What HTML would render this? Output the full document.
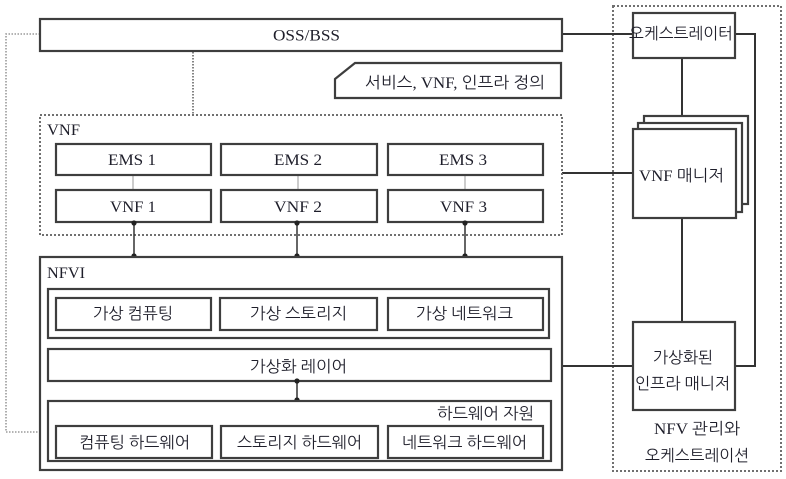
<!DOCTYPE html>
<html><head><meta charset="utf-8"><style>
html,body{margin:0;padding:0;background:#fff;}
svg{display:block;}
text{font-family:"Liberation Serif","NanumGothic","Noto Sans CJK KR",sans-serif;fill:#1e1e2a;font-size:16px;}
.b{fill:#fff;stroke:#3e3e3e;stroke-width:2.2;}
.l{stroke:#333;stroke-width:2;fill:none;}
.d{fill:none;stroke:#707070;stroke-width:2;stroke-dasharray:2 2;}
</style></head><body>
<svg width="786" height="479" viewBox="0 0 786 479" xmlns="http://www.w3.org/2000/svg">
<!-- dotted connectors -->
<path d="M40,34 L6,34 L6,432 L48,432" fill="none" stroke="#9a9a9a" stroke-width="1.6" stroke-dasharray="1.5 1.5"/>
<line x1="193" y1="52" x2="193" y2="115" stroke="#666" stroke-width="1.6" stroke-dasharray="1.5 1.5"/>

<!-- MANO dotted -->
<rect x="613" y="6" width="168" height="465" class="d"/>

<!-- solid connectors -->
<path class="l" d="M563,34 L633,34"/>
<path class="l" d="M735,34 L755,34 L755,366 L735,366"/>
<path class="l" d="M682,58 L682,129"/>
<path class="l" d="M562,173 L633,173"/>
<path class="l" d="M682,218 L682,322"/>
<path class="l" d="M563,366 L633,366"/>

<!-- OSS/BSS -->
<rect x="40" y="19" width="522" height="32" class="b"/>
<text x="273" y="40.5" textLength="67" lengthAdjust="spacingAndGlyphs" font-size="17">OSS/BSS</text>

<!-- service def -->
<path class="b" d="M335,79 L355,63 L561,63 L561,98 L335,98 Z"/>
<text x="365" y="88" textLength="180" lengthAdjust="spacingAndGlyphs">서비스, VNF, 인프라 정의</text>

<!-- VNF dotted -->
<rect x="40" y="115" width="522" height="120" class="d"/>
<text x="47" y="135" textLength="33" lengthAdjust="spacingAndGlyphs" font-size="17">VNF</text>

<line x1="133" y1="175" x2="133" y2="190" stroke="#999" stroke-width="1"/>
<line x1="298" y1="175" x2="298" y2="190" stroke="#999" stroke-width="1"/>
<line x1="465" y1="175" x2="465" y2="190" stroke="#999" stroke-width="1"/>

<rect x="56" y="144" width="155" height="31" class="b"/>
<rect x="221" y="144" width="156" height="31" class="b"/>
<rect x="388" y="144" width="155" height="31" class="b"/>
<text x="108" y="165" textLength="48" lengthAdjust="spacingAndGlyphs" font-size="17">EMS 1</text>
<text x="274" y="165" textLength="48" lengthAdjust="spacingAndGlyphs" font-size="17">EMS 2</text>
<text x="439" y="165" textLength="48" lengthAdjust="spacingAndGlyphs" font-size="17">EMS 3</text>

<rect x="56" y="190" width="155" height="32" class="b"/>
<rect x="221" y="190" width="156" height="32" class="b"/>
<rect x="388" y="190" width="155" height="32" class="b"/>
<text x="110" y="212" textLength="46" lengthAdjust="spacingAndGlyphs" font-size="17">VNF 1</text>
<text x="274" y="212" textLength="48" lengthAdjust="spacingAndGlyphs" font-size="17">VNF 2</text>
<text x="440" y="212" textLength="47" lengthAdjust="spacingAndGlyphs" font-size="17">VNF 3</text>

<!-- VNF to NFVI -->
<g stroke="#333" stroke-width="1.5">
<line x1="134" y1="222" x2="134" y2="256"/>
<line x1="297" y1="222" x2="297" y2="256"/>
<line x1="465" y1="222" x2="465" y2="256"/>
</g>
<g fill="#222">
<circle cx="134" cy="223" r="2.6"/><circle cx="297" cy="223" r="2.6"/><circle cx="465" cy="223" r="2.6"/>
<circle cx="134" cy="256" r="2.6"/><circle cx="297" cy="256" r="2.6"/><circle cx="465" cy="256" r="2.6"/>
</g>

<!-- NFVI -->
<rect x="40" y="257" width="522" height="213" class="b"/>
<text x="47" y="278" textLength="38" lengthAdjust="spacingAndGlyphs" font-size="17">NFVI</text>

<rect x="48" y="289" width="501" height="49" class="b"/>
<rect x="56" y="298" width="155" height="32" class="b"/>
<rect x="220" y="298" width="157" height="32" class="b"/>
<rect x="388" y="298" width="155" height="32" class="b"/>
<text x="93" y="319" textLength="80" lengthAdjust="spacingAndGlyphs">가상 컴퓨팅</text>
<text x="250" y="319" textLength="97" lengthAdjust="spacingAndGlyphs">가상 스토리지</text>
<text x="416" y="319" textLength="97" lengthAdjust="spacingAndGlyphs">가상 네트워크</text>

<rect x="48" y="349" width="503" height="32" class="b"/>
<text x="250" y="372" textLength="97" lengthAdjust="spacingAndGlyphs">가상화 레이어</text>

<line x1="297" y1="381" x2="297" y2="400" stroke="#333" stroke-width="1.5"/>
<circle cx="297" cy="381" r="2.6" fill="#222"/>
<circle cx="297" cy="400" r="2.6" fill="#222"/>

<rect x="48" y="401" width="503" height="60" class="b"/>
<text x="437" y="419" textLength="97" lengthAdjust="spacingAndGlyphs">하드웨어 자원</text>
<rect x="56" y="426" width="156" height="32" class="b"/>
<rect x="221" y="426" width="157" height="32" class="b"/>
<rect x="388" y="426" width="155" height="32" class="b"/>
<text x="79" y="448" textLength="111" lengthAdjust="spacingAndGlyphs">컴퓨팅 하드웨어</text>
<text x="237" y="448" textLength="125" lengthAdjust="spacingAndGlyphs">스토리지 하드웨어</text>
<text x="402" y="448" textLength="125" lengthAdjust="spacingAndGlyphs">네트워크 하드웨어</text>

<!-- Orchestrator -->
<rect x="633" y="13" width="102" height="45" class="b"/>
<text x="629" y="39" textLength="104" lengthAdjust="spacingAndGlyphs">오케스트레이터</text>

<!-- VNF manager stack -->
<rect x="644" y="116" width="104" height="88" class="b"/>
<rect x="638" y="123" width="104" height="89" class="b"/>
<rect x="633" y="129" width="103" height="89" class="b"/>
<text x="639" y="181" textLength="85" lengthAdjust="spacingAndGlyphs">VNF 매니저</text>

<!-- VIM -->
<rect x="633" y="322" width="102" height="88" class="b"/>
<text x="653" y="363" textLength="60" lengthAdjust="spacingAndGlyphs">가상화된</text>
<text x="635" y="389" textLength="95" lengthAdjust="spacingAndGlyphs">인프라 매니저</text>

<text x="654" y="434" textLength="86" lengthAdjust="spacingAndGlyphs">NFV 관리와</text>
<text x="645" y="461" textLength="104" lengthAdjust="spacingAndGlyphs">오케스트레이션</text>
</svg>
</body></html>
